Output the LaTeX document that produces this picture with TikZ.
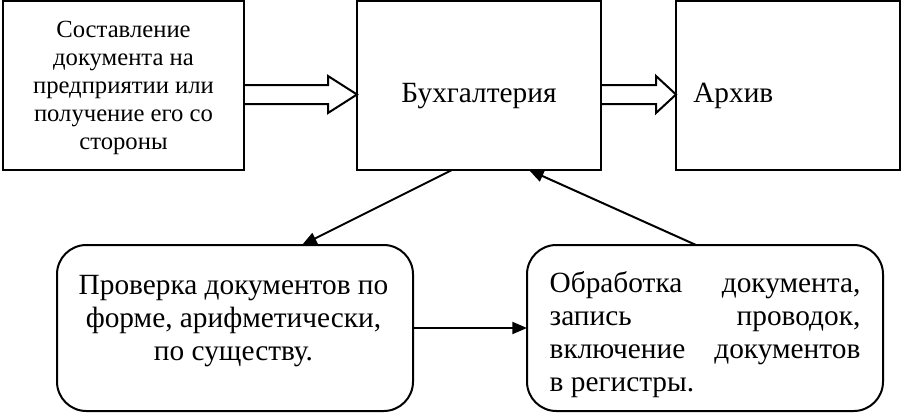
\documentclass[tikz,border=0pt]{standalone}
\usepackage{fontspec}
\setmainfont{Liberation Serif}
\usetikzlibrary{arrows.meta,positioning,calc}

\newcommand{\blockarrow}[3]{%
  \draw[blockarr] ($(#1.east)+(0,-0.5)$) -- ($(#2.west)+(-#3,-0.5)$)
    -- ($(#2.west)+(-#3,-9.5)$) -- ($(#2.west)+(0,9)$)
    -- ($(#2.west)+(-#3,27.5)$) -- ($(#2.west)+(-#3,18.5)$)
    -- ($(#1.east)+(0,18.5)$);%
}

\begin{document}
\begin{tikzpicture}[x=0.75pt,y=-0.75pt,
    box/.style={draw, line width=1.5pt, outer sep=0pt, inner sep=0pt,
      minimum height=126.75pt},
    roundbox/.style={draw, line width=1.5pt, outer sep=0pt, inner sep=0pt,
      rounded corners=22pt, minimum width=267pt, minimum height=124.5pt},
    smalltxt/.style={inner sep=0pt, align=center,
      font=\fontsize{18.5}{21}\selectfont},
    bigtxt/.style={inner sep=0pt, font=\fontsize{22}{24.75}\selectfont},
    blockarr/.style={line width=1.5pt, line join=miter},
    link/.style={line width=1.5pt, -{Triangle[length=11pt,width=9pt]}}]

    \useasboundingbox (0,0) rectangle (902,414);

    % 1. Top row of boxes
    \node[box, minimum width=180.75pt] (sost) at (123.5,85.5) {};
    \node[box, minimum width=183pt] (bux) at (479,85.5) {};
    \node[box, minimum width=168pt] (arh) at (788,85.5) {};

    \node[smalltxt] (sosttxt) at (123.5,88) {Составление\\документа на\\предприятии или\\получение его со\\стороны};
    \node[bigtxt] (buxtxt) at (479,96) {Бухгалтерия};
    \node[bigtxt, anchor=west] (arhtxt) at (693,96) {Архив};

    % 2. Block arrows between the top boxes
    \blockarrow{sost}{bux}{29}
    \blockarrow{bux}{arh}{20}

    % 3. Bottom row of rounded boxes
    \node[roundbox] (prov) at (235,328) {};
    \node[roundbox] (obr) at (705,328) {};

    \node[bigtxt, align=center] (provtxt) at (233.5,321) {Проверка документов по\\форме, арифметически,\\по существу.};
    \node[bigtxt, align=justify, text width=233pt] (obrtxt) at (705,335) {Обработка документа,\linebreak запись проводок,\linebreak включение документов\linebreak в регистры.};

    % 4. Connectors
    \draw[link] ($(bux.south)+(-27,0)$) -- ($(prov.north)+(67,0)$);
    \draw[link] ($(obr.north)+(-9,0)$) -- ($(bux.south)+(50,0)$);
    \draw[link] (prov.east) -- (obr.west);

\end{tikzpicture}
\end{document}
